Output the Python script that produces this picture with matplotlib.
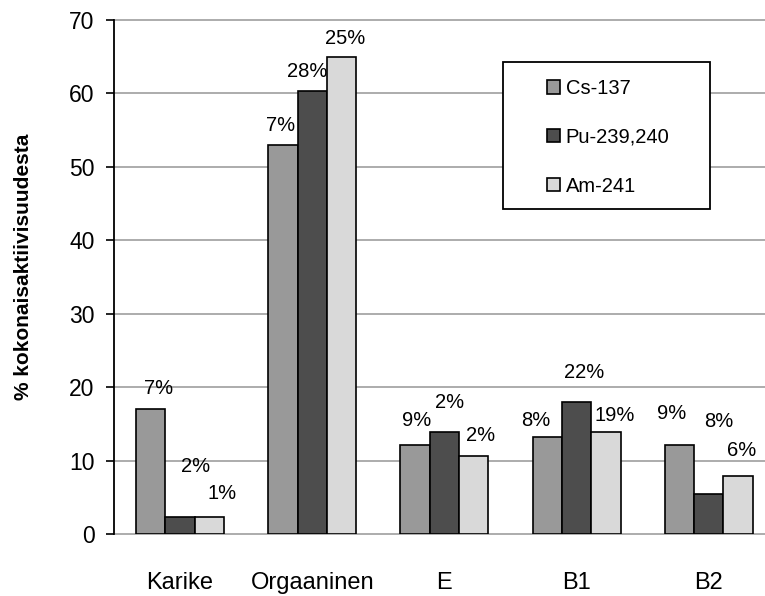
import matplotlib
matplotlib.use("Agg")
import matplotlib.pyplot as plt
from matplotlib.patches import Rectangle
import numpy as np

plt.rcParams['font.family'] = ['Liberation Sans', 'DejaVu Sans']

# Data
categories = ['Karike', 'Orgaaninen', 'E', 'B1', 'B2']
series = ['Cs-137', 'Pu-239,240', 'Am-241']
cs137 = [17.1, 53.0, 12.2, 13.2, 12.2]
pu239 = [2.3, 60.3, 13.9, 18.0, 5.5]
am241 = [2.4, 64.9, 10.7, 13.9, 7.9]
cs_labels = ['7%', '7%', '9%', '8%', '9%']
pu_labels = ['2%', '28%', '2%', '22%', '8%']
am_labels = ['1%', '25%', '2%', '19%', '6%']

# Label placement (hand-placed in the original), offsets from bar top/center
cs_dx = [0.06, -0.015, 0.015, -0.088, -0.057]
cs_dy = [2.76, 2.6, 3.27, 2.26, 4.2]
pu_dx = [0.117, -0.04, 0.04, 0.053, 0.074]
pu_dy = [6.9, 2.7, 4.0, 4.0, 9.8]
am_dx = [0.097, 0.023, 0.05, 0.068, 0.025]
am_dy = [3.2, 2.6, 2.8, 2.3, 3.5]

colors = ['#999999', '#4d4d4d', '#d9d9d9']
width = 0.222

fig = plt.figure(figsize=(7.65, 5.96), dpi=100)
ax = fig.add_axes([0.149, 0.1035, 0.851, 0.8633])

x = np.arange(len(categories))
values = [cs137, pu239, am241]
labels = [cs_labels, pu_labels, am_labels]
dxs = [cs_dx, pu_dx, am_dx]
dys = [cs_dy, pu_dy, am_dy]

handles = []
for i in range(3):
    pos = x + (i - 1) * width
    b = ax.bar(pos, values[i], width, color=colors[i], edgecolor='black',
               linewidth=1.2, label=series[i], zorder=3)
    handles.append(b)
    for j in range(len(categories)):
        ax.text(pos[j] + dxs[i][j], values[i][j] + dys[i][j], labels[i][j],
                ha='center', va='center', fontsize=14.5)

ax.set_xlim(-0.5, 4.425)
ax.set_ylim(0, 70)
ax.set_yticks(range(0, 71, 10))
ax.set_xticks(x)
ax.set_xticklabels(categories)
ax.tick_params(axis='x', length=0, pad=27, labelsize=17)
ax.tick_params(axis='y', length=6, width=1.2, pad=8, labelsize=16.5, direction='out')

ax.yaxis.grid(True, color='#a6a6a6', linewidth=1.3)
ax.set_axisbelow(True)
for line in ax.get_ygridlines():
    line.set_clip_on(False)

for s in ['top', 'right', 'bottom']:
    ax.spines[s].set_visible(False)
ax.spines['left'].set_linewidth(1.3)
ax.spines['left'].set_zorder(4)

ax.set_ylabel('% kokonaisaktiivisuudesta', fontsize=15, fontweight='bold')
ax.yaxis.set_label_coords(-0.125, 0.52)

# Legend box
ax.add_patch(Rectangle((0.5975, 0.632), 0.318, 0.286, transform=ax.transAxes,
                       facecolor='white', edgecolor='black', linewidth=1.3,
                       zorder=5, clip_on=False))
leg = ax.legend(handles=handles, loc='upper left', bbox_to_anchor=(0.6647, 0.885),
                frameon=False, borderpad=0, borderaxespad=0, fontsize=14.5,
                handlelength=0.65, handleheight=0.65, handletextpad=0.3,
                labelspacing=1.48)
leg.set_zorder(6)

fig.savefig('out.png', dpi=100)
